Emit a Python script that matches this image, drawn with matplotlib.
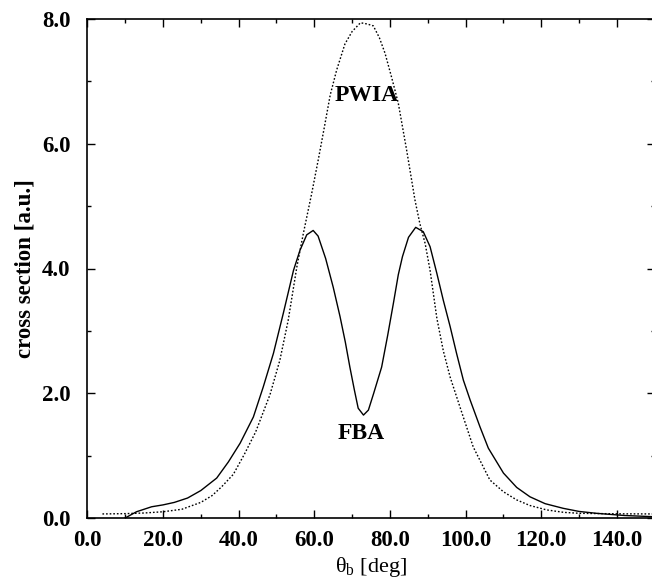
import matplotlib
matplotlib.use("Agg")
import matplotlib.pyplot as plt
from matplotlib.ticker import MultipleLocator, FormatStrFormatter

plt.rcParams["font.family"] = ["Liberation Serif", "DejaVu Serif"]
plt.rcParams["mathtext.fontset"] = "custom"
plt.rcParams["mathtext.rm"] = "Liberation Serif"

# First Born approximation (solid)
fba_theta = [10, 13, 17, 20, 23, 26.5, 30, 34.2, 37.3, 40.4, 43.9, 46.5, 49.2,
             51.8, 54.5, 56.2, 58, 59.7, 61, 63, 65, 66.8, 68.2, 69.4, 70.6,
             71.6, 73, 74.3, 75.7, 77.8, 79.4, 80.9, 82.2, 83.3, 84.9, 86.8,
             88.8, 90.6, 92.4, 94.1, 95.9, 97.6, 99.4, 101.2, 103.8, 106, 110,
             113.5, 117, 121, 125.8, 130, 134.6, 142, 150]
fba_sigma = [0.0, 0.10, 0.18, 0.21, 0.25, 0.32, 0.44, 0.64, 0.90, 1.20, 1.62,
             2.10, 2.64, 3.28, 3.97, 4.29, 4.54, 4.61, 4.52, 4.16, 3.70, 3.23,
             2.82, 2.42, 2.05, 1.76, 1.65, 1.73, 2.00, 2.42, 2.93, 3.44, 3.90,
             4.19, 4.50, 4.66, 4.59, 4.35, 3.92, 3.49, 3.07, 2.64, 2.21, 1.89,
             1.46, 1.12, 0.72, 0.49, 0.34, 0.23, 0.155, 0.105, 0.075, 0.04, 0.02]

# Plane-wave impulse approximation (dotted)
pwia_theta = [4, 10, 15, 20, 25, 30, 33, 35.5, 38.6, 41.5, 44.5, 48.3, 50.9,
              53.1, 55.4, 57.1, 59.3, 61.1, 62.7, 64.2, 65.9, 68.1, 70, 72.2,
              74, 75.6, 77.2, 78.7, 80.5, 82.2, 84.4, 86.6, 87.9, 89.3, 90.6,
              92.4, 94.1, 95.9, 98.5, 102, 106.4, 110, 113.5, 117, 121.4, 126,
              130.2, 140, 150]
pwia_sigma = [0.065, 0.07, 0.08, 0.10, 0.14, 0.25, 0.36, 0.50, 0.70, 1.02, 1.38,
              1.98, 2.53, 3.17, 4.03, 4.56, 5.20, 5.76, 6.28, 6.78, 7.18, 7.60,
              7.80, 7.94, 7.92, 7.89, 7.70, 7.45, 7.05, 6.65, 5.90, 5.10, 4.72,
              4.40, 3.97, 3.20, 2.68, 2.26, 1.78, 1.14, 0.61, 0.42, 0.29, 0.20,
              0.13, 0.09, 0.075, 0.067, 0.065]

fig = plt.figure(figsize=(6.52, 5.87), dpi=100)
ax = fig.add_axes([87.3 / 652, 69 / 587, 567.5 / 652, 499 / 587])

ax.plot(fba_theta, fba_sigma, color="black", lw=1.0, ls="-")
ax.plot(pwia_theta, pwia_sigma, color="black", lw=1.0, ls=(0, (1.2, 1.4)))

ax.set_xlim(0, 150)
ax.set_ylim(0, 8)

ax.xaxis.set_major_locator(MultipleLocator(20))
ax.xaxis.set_minor_locator(MultipleLocator(10))
ax.yaxis.set_major_locator(MultipleLocator(2))
ax.yaxis.set_minor_locator(MultipleLocator(1))
ax.xaxis.set_major_formatter(FormatStrFormatter("%.1f"))
ax.yaxis.set_major_formatter(FormatStrFormatter("%.1f"))

ax.tick_params(which="both", direction="in", top=True, right=True, width=1.0,
               labelsize=16.5)
ax.tick_params(which="major", length=5.5)
ax.tick_params(which="minor", length=3)
ax.tick_params(axis="x", which="major", pad=8.5)
ax.tick_params(axis="y", which="major", pad=12)
for lab in ax.get_xticklabels() + ax.get_yticklabels():
    lab.set_fontweight("bold")
for sp in ax.spines.values():
    sp.set_linewidth(1.2)

ax.set_xlabel(r"$\mathregular{\theta_b}$ [deg]", fontsize=16, labelpad=3)
ax.set_ylabel("cross section [a.u.]", fontsize=16.5, fontweight="bold", labelpad=5)

ax.text(73.9, 6.78, "PWIA", fontsize=17, fontweight="bold", ha="center", va="center")
ax.text(72.3, 1.35, "FBA", fontsize=17, fontweight="bold", ha="center", va="center")

fig.savefig("out.png", dpi=100)
